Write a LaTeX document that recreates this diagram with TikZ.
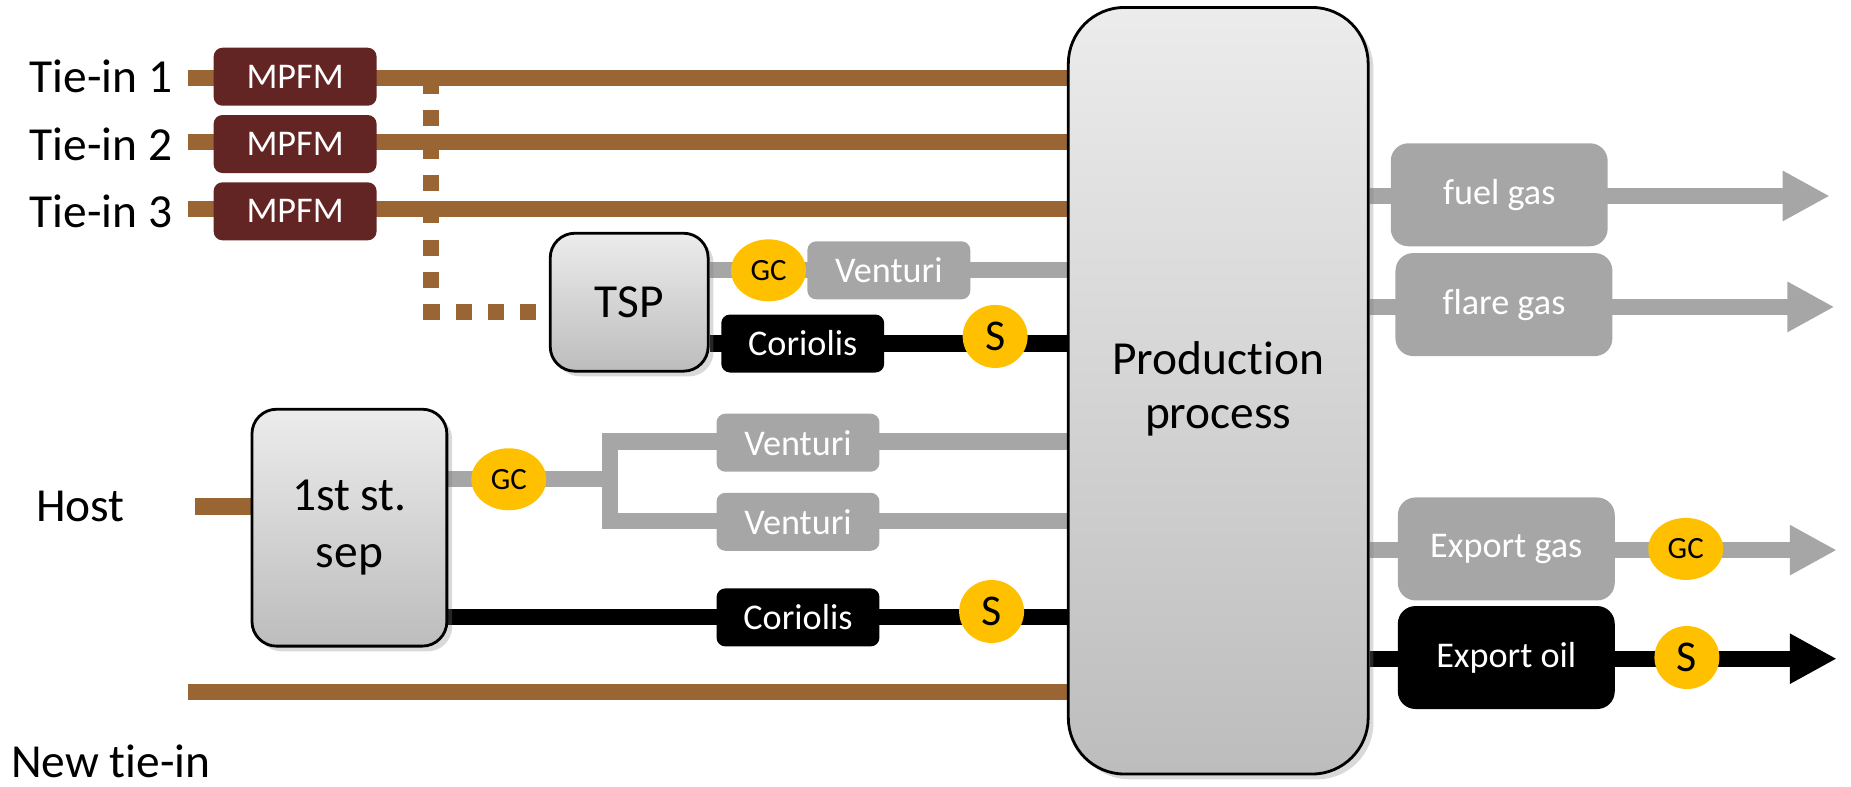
\documentclass[tikz,border=0pt]{standalone}
\usepackage{fontspec}
\setmainfont{Carlito}[Ligatures=NoCommon]
\usetikzlibrary{shapes, shapes.geometric, arrows.meta, positioning, shadows, backgrounds}

\definecolor{pipebrown}{HTML}{996633}
\definecolor{mpfmred}{HTML}{632523}
\definecolor{gasgrey}{HTML}{A6A6A6}
\definecolor{meteryellow}{HTML}{FFC000}

\begin{document}
\begin{tikzpicture}[
    x=0.011805cm, y=-0.011805cm,
    big/.style={font=\fontsize{13.5}{16.3}\selectfont, align=center, inner sep=0pt},
    mpfm/.style={rectangle, rounded corners=2.5pt, fill=mpfmred, text=white, minimum width=1.63cm, minimum height=0.58cm, font=\fontsize{10.3}{12}\selectfont},
    gas/.style={rectangle, rounded corners=2.5pt, fill=gasgrey, text=white, minimum width=1.63cm, minimum height=0.58cm, font=\fontsize{10.3}{12}\selectfont},
    oil/.style={gas, fill=black},
    export/.style={minimum width=2.17cm, minimum height=1.03cm, rounded corners=5pt},
    vessel/.style={rectangle, draw, line width=0.8pt, rounded corners=7pt, top color=gray!15, bottom color=gray!52, drop shadow={opacity=0.3, shadow xshift=1.5pt, shadow yshift=-1.5pt}, font=\fontsize{13.5}{16.3}\selectfont, align=center},
    gc/.style={ellipse, fill=meteryellow, inner sep=0pt, minimum width=0.75cm, minimum height=0.62cm, font=\fontsize{8.8}{10}\selectfont},
    salt/.style={gc, minimum width=0.65cm, minimum height=0.63cm, font=\fontsize{12.5}{14}\selectfont},
    pipe/.style={draw=pipebrown, line width=4.6pt},
    bypass/.style={pipe, dash pattern=on 4.6pt off 4.6pt},
    gasline/.style={draw=gasgrey, line width=4.6pt},
    oilline/.style={draw=black, line width=4.6pt},
    flow/.style={-{Triangle[length=13.4pt, width=13.4pt]}}
]
\useasboundingbox (0,0) rectangle (1568,666);

% Process vessels
\node[vessel, rounded corners=16pt, minimum width=3.0cm, minimum height=7.67cm, font=\fontsize{13.5}{15.2}\selectfont] (Prod) at (1032,331) {\raisebox{-2pt}{\begin{tabular}{@{}c@{}}Production\\process\end{tabular}}};
\node[vessel, minimum width=1.58cm, minimum height=1.38cm] (TSP) at (533,256) {TSP};
\node[vessel, minimum width=1.95cm, minimum height=2.37cm] (Sep) at (296,447) {1st st.\\sep};

% Tie-ins with multiphase meters
\node[mpfm] (MPFM1) at (250,65) {MPFM};
\node[mpfm] (MPFM2) at (250,122) {MPFM};
\node[mpfm] (MPFM3) at (250,179) {MPFM};
\node[big, left=0.4cm of MPFM1] (TieIn1) {Tie-in 1};
\node[big, left=0.4cm of MPFM2] (TieIn2) {Tie-in 2};
\node[big, left=0.4cm of MPFM3] (TieIn3) {Tie-in 3};
\node[big] (Host) at (68,429) {Host};
\node[big, anchor=base west] (NewTieIn) at (9,659) {New tie-in};

\coordinate (In1) at (159,66);
\coordinate (In2) at (159,120);
\coordinate (In3) at (159,177);
\coordinate (InHost) at (165,429);
\coordinate (InNew) at (159,586);
\coordinate (Tap) at (365,66);

% Test separator outlets
\node[gc] (GCtsp) at (651,229) {GC};
\node[gas, right=0pt of GCtsp] (VentTSP) {Venturi};
\node[oil] (CorTSP) at (680,291) {Coriolis};
\node[salt] (STSP) at (843,285) {S};

% First stage separator outlets
\node[gc] (GCsep) at (431,406) {GC};
\coordinate (SplitTop) at (517,374);
\coordinate (SplitBot) at (517,441);
\node[gas] (VentSep1) at (676,375) {Venturi};
\node[gas] (VentSep2) at (676,442) {Venturi};
\node[oil] (CorSep) at (676,523) {Coriolis};
\node[salt] (SSep) at (840,518) {S};

% Products
\node[gas, export] (Fuel) at (1270,165) {fuel gas};
\node[gas, export] (Flare) at (1274,258) {flare gas};
\node[gas, export] (ExpGas) at (1276,465) {Export gas};
\node[oil, export] (ExpOil) at (1276,557) {Export oil};
\node[gc] (GCexp) at (1428,465) {GC};
\node[salt] (Sexp) at (1429,557) {S};
\coordinate (FuelEnd) at (1550,166);
\coordinate (FlareEnd) at (1554,260);
\coordinate (ExpGasEnd) at (1556,466);
\coordinate (ExpOilEnd) at (1556,558);

% Connections
\begin{pgfonlayer}{background}
\draw[pipe] (In1) -- (In1 -| Prod.west);
\draw[pipe] (In2) -- (In2 -| Prod.west);
\draw[pipe] (In3) -- (In3 -| Prod.west);
\draw[pipe] (InHost) -- (InHost -| Sep.west);
\draw[pipe] (InNew) -- (InNew -| Prod.west);
\draw[bypass] (Tap) |- ([yshift=-2.7pt]TSP.west);

\draw[gasline] (TSP.east |- GCtsp) -- (GCtsp -| Prod.west);
\draw[oilline] (TSP.east |- CorTSP) -- (CorTSP -| Prod.west);

\draw[gasline] (Sep.east |- GCsep) -- (GCsep -| SplitTop);
\draw[gasline, line cap=rect] (SplitTop) -- (SplitBot);
\draw[gasline] (SplitTop) -- (SplitTop -| Prod.west);
\draw[gasline] (SplitBot) -- (SplitBot -| Prod.west);
\draw[oilline] (Sep.east |- CorSep) -- (CorSep -| Prod.west);

\draw[gasline, flow] (Prod.east |- FuelEnd) -- (FuelEnd);
\draw[gasline, flow] (Prod.east |- FlareEnd) -- (FlareEnd);
\draw[gasline, flow] (Prod.east |- ExpGasEnd) -- (ExpGasEnd);
\draw[oilline, flow] (Prod.east |- ExpOilEnd) -- (ExpOilEnd);
\end{pgfonlayer}

\end{tikzpicture}
\end{document}
